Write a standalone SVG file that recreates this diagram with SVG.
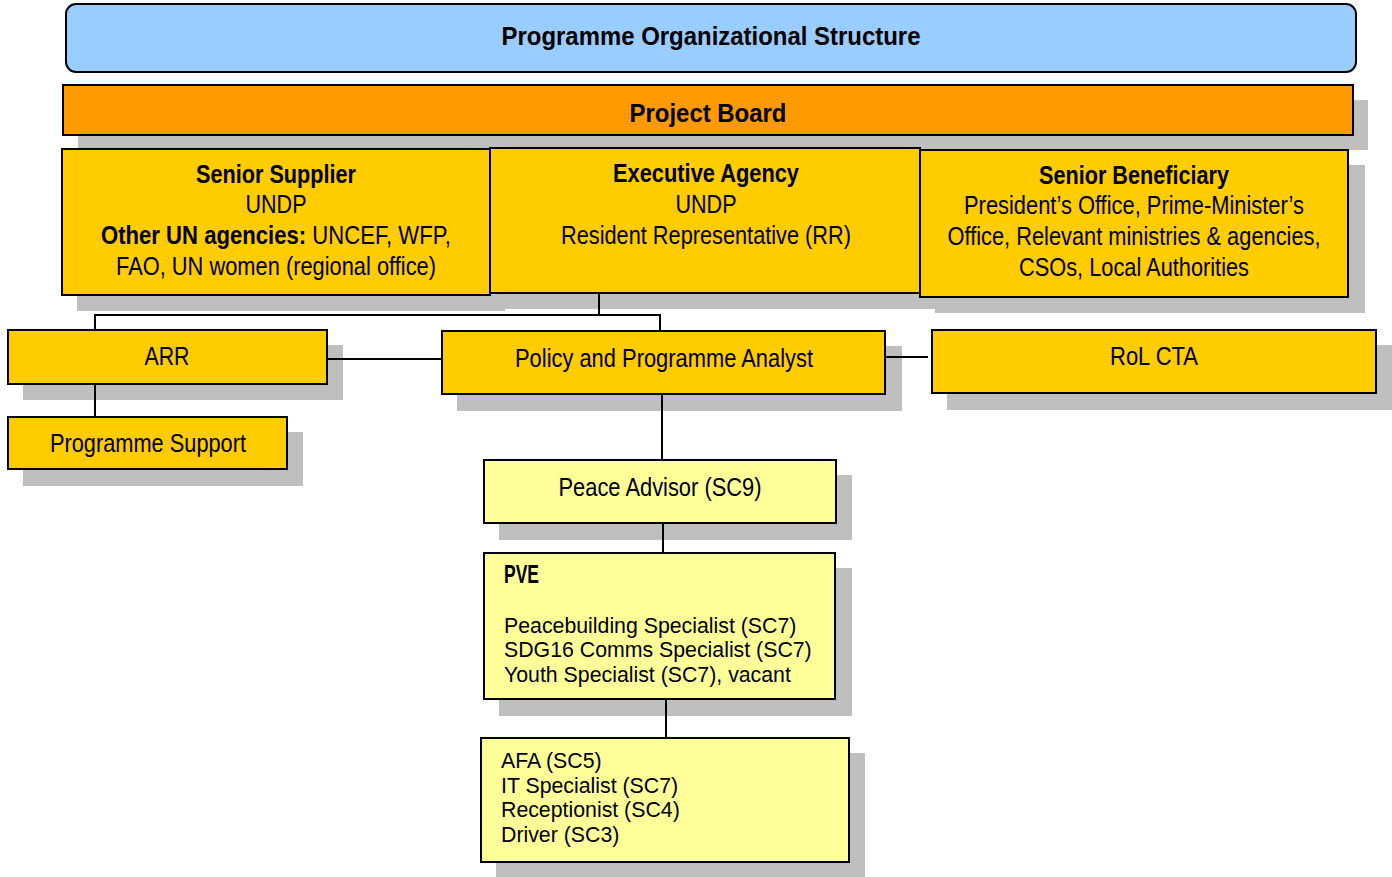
<svg xmlns="http://www.w3.org/2000/svg" width="1392" height="877" viewBox="0 0 1392 877">
<style>
.sh{fill:#BFBFBF}
.box{stroke:#000;stroke-width:2}
.o{fill:#FFCC00}
.y{fill:#FFFF99}
.t{font-family:"Liberation Sans",Arial,sans-serif;font-size:25px;fill:#000}
.b{font-weight:bold}
.c{text-anchor:middle}
.r{font-family:"Liberation Sans",Arial,sans-serif;font-size:21.3px;fill:#000}
.ln{stroke:#000;stroke-width:2;fill:none}
</style>
<rect width="1392" height="877" fill="#fff"/>
<g id="shadows">
<rect x="78" y="100" width="1290" height="50" class="sh"/>
<rect x="77" y="164" width="428" height="147" class="sh"/>
<rect x="505" y="163" width="430" height="146" class="sh"/>
<rect x="935" y="165" width="430" height="148" class="sh"/>
<rect x="23" y="345" width="320" height="55" class="sh"/>
<rect x="23" y="432" width="280" height="54" class="sh"/>
<rect x="457" y="346" width="445" height="65" class="sh"/>
<rect x="947" y="345" width="445" height="65" class="sh"/>
<rect x="499" y="475" width="353" height="65" class="sh"/>
<rect x="499" y="568" width="353" height="148" class="sh"/>
<rect x="496" y="753" width="369" height="124" class="sh"/>
</g>
<g id="connectors">
<polyline points="599,293 599,315" class="ln"/>
<polyline points="95,330 95,315 660,315 660,331" class="ln"/>
<line x1="327" y1="359" x2="442" y2="359" class="ln"/>
<line x1="95" y1="384" x2="95" y2="417" class="ln"/>
<line x1="885" y1="357" x2="928" y2="357" class="ln"/>
<line x1="662" y1="394" x2="662" y2="460" class="ln"/>
<line x1="663" y1="523" x2="663" y2="553" class="ln"/>
<line x1="666" y1="699" x2="666" y2="738" class="ln"/>
</g>
<g id="title">
<rect x="66" y="4" width="1290" height="68" rx="10" fill="#99CCFF" class="box"/>
<text x="711" y="45" class="t b c" font-size="30" textLength="419" lengthAdjust="spacingAndGlyphs">Programme Organizational Structure</text>
</g>
<g id="project-board">
<rect x="63" y="85" width="1290" height="50" fill="#FF9900" class="box"/>
<text x="708" y="122" class="t b c" font-size="29" textLength="157" lengthAdjust="spacingAndGlyphs">Project Board</text>
</g>
<g id="senior-supplier">
<rect x="62" y="149" width="428" height="146" class="box o"/>
<text x="276" y="183" class="t b c" textLength="160" lengthAdjust="spacingAndGlyphs">Senior Supplier</text>
<text x="276" y="213" class="t c" textLength="61" lengthAdjust="spacingAndGlyphs">UNDP</text>
<text transform="translate(101 244) scale(0.885 1)" x="0" y="0" class="t"><tspan class="b">Other UN agencies:</tspan> UNCEF, WFP,</text>
<text x="276" y="275" class="t c" textLength="320" lengthAdjust="spacingAndGlyphs">FAO, UN women (regional office)</text>
</g>
<g id="executive-agency">
<rect x="490" y="148" width="430" height="145" class="box o"/>
<text x="706" y="182" class="t b c" textLength="186" lengthAdjust="spacingAndGlyphs">Executive Agency</text>
<text x="706" y="213" class="t c" textLength="61" lengthAdjust="spacingAndGlyphs">UNDP</text>
<text x="706" y="244" class="t c" textLength="290" lengthAdjust="spacingAndGlyphs">Resident Representative (RR)</text>
</g>
<g id="senior-beneficiary">
<rect x="920" y="150" width="428" height="147" class="box o"/>
<text x="1134" y="184" class="t b c" textLength="190" lengthAdjust="spacingAndGlyphs">Senior Beneficiary</text>
<text x="1134" y="214" class="t c" textLength="340" lengthAdjust="spacingAndGlyphs">President’s Office, Prime-Minister’s</text>
<text x="1134" y="245" class="t c" textLength="373" lengthAdjust="spacingAndGlyphs">Office, Relevant ministries &amp; agencies,</text>
<text x="1134" y="276" class="t c" textLength="230" lengthAdjust="spacingAndGlyphs">CSOs, Local Authorities</text>
</g>
<g id="arr">
<rect x="8" y="330" width="319" height="54" class="box o"/>
<text x="167" y="365" class="t c" textLength="45" lengthAdjust="spacingAndGlyphs">ARR</text>
</g>
<g id="programme-support">
<rect x="8" y="417" width="279" height="52" class="box o"/>
<text x="148" y="452" class="t c" textLength="196" lengthAdjust="spacingAndGlyphs">Programme Support</text>
</g>
<g id="policy-analyst">
<rect x="442" y="331" width="443" height="63" class="box o"/>
<text x="664" y="367" class="t c" textLength="298" lengthAdjust="spacingAndGlyphs">Policy and Programme Analyst</text>
</g>
<g id="rol-cta">
<rect x="932" y="330" width="444" height="63" class="box o"/>
<text x="1154" y="365" class="t c" textLength="88" lengthAdjust="spacingAndGlyphs">RoL CTA</text>
</g>
<g id="peace-advisor">
<rect x="484" y="460" width="352" height="63" class="box y"/>
<text x="660" y="496" class="t c" textLength="203" lengthAdjust="spacingAndGlyphs">Peace Advisor (SC9)</text>
</g>
<g id="pve">
<rect x="484" y="553" width="351" height="146" class="box y"/>
<text x="504" y="583" class="t b" font-size="18" textLength="35" lengthAdjust="spacingAndGlyphs">PVE</text>
<text x="504" y="633" class="r">Peacebuilding Specialist (SC7)</text>
<text x="504" y="657" class="r">SDG16 Comms Specialist (SC7)</text>
<text x="504" y="682" class="r">Youth Specialist (SC7), vacant</text>
</g>
<g id="support-staff">
<rect x="481" y="738" width="368" height="124" class="box y"/>
<text x="501" y="768" class="r">AFA (SC5)</text>
<text x="501" y="793" class="r">IT Specialist (SC7)</text>
<text x="501" y="817" class="r">Receptionist (SC4)</text>
<text x="501" y="842" class="r">Driver (SC3)</text>
</g>
</svg>
